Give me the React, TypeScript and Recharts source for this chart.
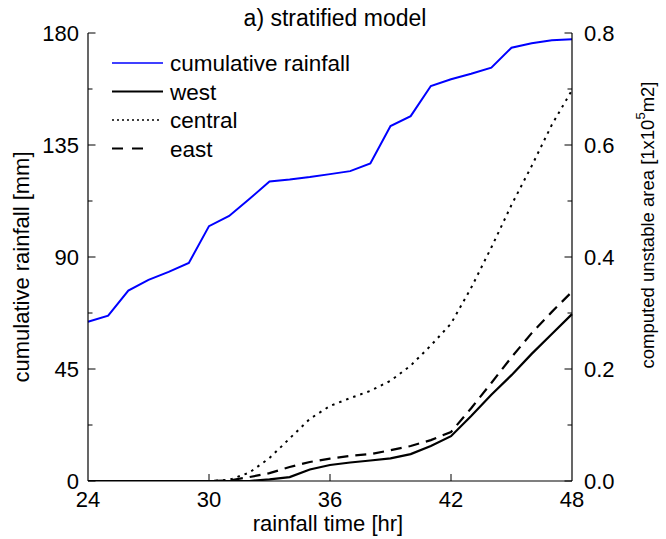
import React from "react";
import { LineChart, Line, XAxis, YAxis, Legend } from "recharts";

const hours = [24, 25, 26, 27, 28, 29, 30, 31, 32, 33, 34, 35, 36, 37, 38, 39, 40, 41, 42, 43, 44, 45, 46, 47, 48];
const rainfall = [64.0, 66.4, 76.5, 80.8, 84.0, 87.6, 102.4, 106.5, 113.3, 120.3, 121.1, 122.1, 123.3, 124.5, 127.6, 142.6, 146.6, 158.7, 161.4, 163.6, 166.1, 174.1, 175.9, 177.1, 177.5];
const west = [0, 0, 0, 0, 0, 0, 0, 0, 0, 0.003, 0.007, 0.0205, 0.0286, 0.033, 0.0366, 0.0405, 0.048, 0.0625, 0.08, 0.116, 0.154, 0.189, 0.227, 0.2625, 0.298];
const central = [0, 0, 0, 0, 0, 0, 0, 0.002, 0.015, 0.041, 0.076, 0.111, 0.134, 0.148, 0.161, 0.179, 0.206, 0.242, 0.281, 0.345, 0.417, 0.493, 0.5625, 0.636, 0.698];
const east = [0, 0, 0, 0, 0, 0, 0, 0.001, 0.007, 0.014, 0.025, 0.034, 0.04, 0.045, 0.048, 0.055, 0.0625, 0.073, 0.0875, 0.13, 0.175, 0.221, 0.264, 0.302, 0.338];

const xTicks = [24, 30, 36, 42, 48];
const leftTicks = [0, 22.5, 45, 67.5, 90, 112.5, 135, 157.5, 180];
const rightTicks = [0, 0.1, 0.2, 0.3, 0.4, 0.5, 0.6, 0.7, 0.8];

const data = hours.map((t, i) => ({
  t,
  rainfall: rainfall[i],
  west: west[i],
  central: central[i],
  east: east[i],
}));

const FONT = "'Liberation Sans', Arial, Helvetica, sans-serif";

const legendItems = [
  { label: "cumulative rainfall", color: "#0000ff", dash: undefined as string | undefined, width: 1.6, len: 51 },
  { label: "west", color: "#000", dash: undefined, width: 2.2, len: 51 },
  { label: "central", color: "#000", dash: "2 3", width: 1.4, len: 47 },
  { label: "east", color: "#000", dash: "11 9", width: 2.2, len: 31 },
];

const isMult = (v: number, step: number) => Math.abs(v / step - Math.round(v / step)) < 1e-6;

const LeftTick = (props: any) => {
  const { x, y, payload } = props;
  const v = payload.value as number;
  const major = isMult(v, 45);
  return (
    <g>
      <line x1={x} x2={x + (major ? 7.5 : 4.5)} y1={y} y2={y} stroke="#000" strokeWidth={1} />
      {major && (
        <text x={x - 9} y={y} dy="0.36em" textAnchor="end" fontSize={22} fontFamily={FONT} fill="#000">
          {String(v)}
        </text>
      )}
    </g>
  );
};

const RightTick = (props: any) => {
  const { x, y, payload } = props;
  const v = payload.value as number;
  const major = isMult(v, 0.2);
  return (
    <g>
      <line x1={x - (major ? 7.5 : 4.5)} x2={x} y1={y} y2={y} stroke="#000" strokeWidth={1} />
      {major && (
        <text x={x + 12} y={y} dy="0.36em" textAnchor="start" fontSize={22} fontFamily={FONT} fill="#000">
          {v.toFixed(1)}
        </text>
      )}
    </g>
  );
};

const BottomTick = (props: any) => {
  const { x, y, payload } = props;
  const v = payload.value as number;
  const edge = v === 24 || v === 48;
  return (
    <g>
      {!edge && <line x1={x} x2={x} y1={y} y2={y - 7} stroke="#000" strokeWidth={1} />}
      <text x={x} y={y + 26} textAnchor="middle" fontSize={22} fontFamily={FONT} fill="#000">
        {String(v)}
      </text>
    </g>
  );
};

const LegendContent = () => (
  <svg width={280} height={120} style={{ display: "block" }}>
    {legendItems.map((it, i) => {
      const yy = 18 + i * 28.5;
      return (
        <g key={it.label}>
          <line x1={12} x2={12 + it.len} y1={yy} y2={yy} stroke={it.color} strokeWidth={it.width} strokeDasharray={it.dash} />
          <text x={70} y={yy} dy="0.36em" fontSize={22.5} fontFamily={FONT} fill="#000">
            {it.label}
          </text>
        </g>
      );
    })}
  </svg>
);

export default function App() {
  return (
    <div style={{ position: "absolute", left: 0, top: 0, width: 666, height: 539, background: "#fff" }}>
      <LineChart width={666} height={539} data={data} margin={{ top: 33, right: 0, bottom: 0, left: 0 }}>
        <XAxis
          dataKey="t"
          type="number"
          domain={[24, 48]}
          ticks={xTicks}
          interval={0}
          height={58}
          tickSize={0}
          tickMargin={0}
          tickLine={false}
          axisLine={{ stroke: "#000", strokeWidth: 1.2 }}
          tick={BottomTick}
        />
        <YAxis
          yAxisId="left"
          orientation="left"
          domain={[0, 180]}
          ticks={leftTicks}
          interval={0}
          width={88}
          tickSize={0}
          tickMargin={0}
          tickLine={false}
          axisLine={{ stroke: "#000", strokeWidth: 1.2 }}
          tick={LeftTick}
          allowDataOverflow
        />
        <YAxis
          yAxisId="right"
          orientation="right"
          domain={[0, 0.8]}
          ticks={rightTicks}
          interval={0}
          width={94}
          tickSize={0}
          tickMargin={0}
          tickLine={false}
          axisLine={{ stroke: "#000", strokeWidth: 1.2 }}
          tick={RightTick}
          allowDataOverflow
        />
        <Legend
          layout="horizontal"
          verticalAlign="middle"
          align="center"
          content={LegendContent}
          wrapperStyle={{ position: "absolute", left: 100, top: 45, width: 280, height: 120 }}
        />
        <Line yAxisId="right" dataKey="central" stroke="#000" strokeWidth={2} strokeDasharray="2.5 5" dot={false} activeDot={false} isAnimationActive={false} type="linear" />
        <Line yAxisId="right" dataKey="east" stroke="#000" strokeWidth={2.2} strokeDasharray="11 7" dot={false} activeDot={false} isAnimationActive={false} type="linear" />
        <Line yAxisId="right" dataKey="west" stroke="#000" strokeWidth={2.2} dot={false} activeDot={false} isAnimationActive={false} type="linear" />
        <Line yAxisId="left" dataKey="rainfall" stroke="#0000ff" strokeWidth={2} dot={false} activeDot={false} isAnimationActive={false} type="linear" />
      </LineChart>
      <svg width={666} height={539} style={{ position: "absolute", left: 0, top: 0, pointerEvents: "none" }}>
        <text x={335} y={26} textAnchor="middle" fontSize={23} fontFamily={FONT} fill="#000">
          a) stratified model
        </text>
        <text x={328} y={531} textAnchor="middle" fontSize={22} fontFamily={FONT} fill="#000">
          rainfall time [hr]
        </text>
        <text x={29} y={267} textAnchor="middle" fontSize={22} fontFamily={FONT} fill="#000" transform="rotate(-90 29 267)">
          cumulative rainfall [mm]
        </text>
        <text x={654} y={225} textAnchor="middle" fontSize={18.5} fontFamily={FONT} fill="#000" transform="rotate(-90 654 225)">
          computed unstable area [1x10
          <tspan fontSize={13} dy={-9}>5</tspan>
          <tspan fontSize={18.5} dy={9}>m2]</tspan>
        </text>
      </svg>
    </div>
  );
}
